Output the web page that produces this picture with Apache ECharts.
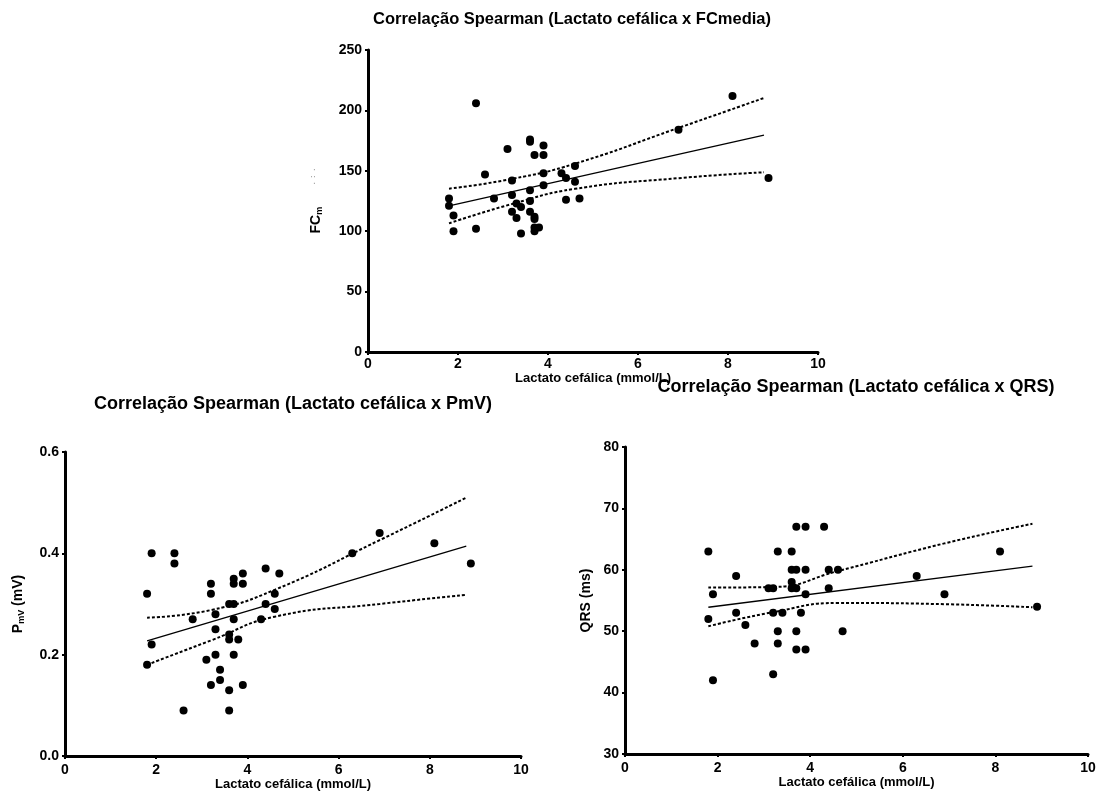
<!DOCTYPE html>
<html>
<head>
<meta charset="utf-8">
<title>Correlação Spearman</title>
<script src="https://cdn.jsdelivr.net/npm/echarts@6/dist/echarts.min.js"></script>
<style>
html, body { margin: 0; padding: 0; background: #fff; }
#main { width: 1103px; height: 805px; }
</style>
</head>
<body>
<div id="main"></div>
<script>
// eixo x comum: lactato cefálica (mmol/L)
var xTicks = [0, 2, 4, 6, 8, 10];
var fitX = [1.8, 8.8];
var ciX = [1.8, 3.2, 4.6, 6.9, 8.8];

// FC media
var fcX = [2.4, 8.1, 6.9, 8.9, 3.6, 3.6, 3.9, 3.1, 3.7, 3.9, 2.6, 3.9, 4.3, 4.4, 4.6, 4.6, 3.2, 3.9, 3.6, 1.8,
           1.8, 2.8, 3.2, 3.6, 4.4, 4.7, 3.3, 3.4, 1.9, 3.2, 3.6, 3.3, 3.7, 3.7, 3.7, 3.8, 3.7, 2.4, 1.9, 3.4];
var fcY = [206, 212, 184, 144, 176, 174, 171, 168, 163, 163, 147, 148, 148, 144, 154, 141, 142, 138, 134, 127,
           121, 127, 130, 125, 126, 127, 123, 120, 113, 116, 116, 111, 112, 110, 103, 103, 100, 102, 100, 98];
var fcTicks = [0, 50, 100, 150, 200, 250];
var fcFit = [120.9, 179.6];
var fcUpper = [135.2, 143.3, 155.9, 185.5, 210.3];
var fcLower = [106.5, 122.5, 135.1, 143.9, 148.8];

// PmV
var pmvX = [1.9, 2.4, 2.4, 6.9, 8.1, 6.3, 8.9, 4.4, 3.9, 4.7, 3.7, 3.7, 3.9, 3.2, 1.8, 3.2, 4.6, 3.6, 3.7, 4.4, 4.6,
            3.3, 2.8, 3.7, 4.3, 3.3, 3.6, 3.6, 3.8, 1.9, 3.3, 3.7, 3.1, 1.8, 3.4, 3.4, 3.2, 3.9, 3.6, 2.6, 3.6];
var pmvY = [0.40, 0.40, 0.38, 0.44, 0.42, 0.40, 0.38, 0.37, 0.36, 0.36, 0.35, 0.34, 0.34, 0.34, 0.32, 0.32, 0.32, 0.30, 0.30, 0.30, 0.29,
            0.28, 0.27, 0.27, 0.27, 0.25, 0.24, 0.23, 0.23, 0.22, 0.20, 0.20, 0.19, 0.18, 0.17, 0.15, 0.14, 0.14, 0.13, 0.09, 0.09];
var pmvTicks = [0.0, 0.2, 0.4, 0.6];
var pmvFit = [0.227, 0.414];
var pmvUpper = [0.273, 0.288, 0.328, 0.426, 0.510];
var pmvLower = [0.180, 0.228, 0.275, 0.300, 0.318];

// QRS
var qrsX = [1.8, 3.7, 3.9, 4.3, 3.3, 3.6, 8.1, 3.6, 3.7, 3.9, 4.4, 4.6, 2.4, 6.3, 3.6, 3.1, 3.2, 3.6, 3.7, 4.4,
            1.9, 3.9, 6.9, 8.9, 2.4, 3.2, 3.4, 3.8, 1.8, 2.6, 3.3, 3.7, 4.7, 2.8, 3.3, 3.7, 3.9, 3.2, 1.9];
var qrsY = [63, 67, 67, 67, 63, 63, 63, 60, 60, 60, 60, 60, 59, 59, 58, 57, 57, 57, 57, 57,
            56, 56, 56, 54, 53, 53, 53, 53, 52, 51, 50, 50, 50, 48, 48, 47, 47, 43, 42];
var qrsTicks = [30, 40, 50, 60, 70, 80];
var qrsFit = [53.9, 60.6];
var qrsUpper = [57.1, 57.2, 59.8, 64.3, 67.5];
var qrsLower = [50.8, 53.1, 54.6, 54.4, 53.9];

var font = 'Liberation Sans, Arial, Helvetica, sans-serif';
var myChart = echarts.init(document.getElementById('main'));

function pairs(xs, ys) {
	return xs.map(function (x, i) { return [x, ys[i]]; });
}

function eixoX(g, gap, margem) {
	return {
		gridIndex: g, type: 'value',
		min: xTicks[0], max: xTicks[xTicks.length - 1], interval: xTicks[1] - xTicks[0],
		name: 'Lactato cefálica (mmol/L)', nameLocation: 'middle', nameGap: gap,
		nameTextStyle: { fontFamily: font, fontWeight: 'bold', fontSize: 13, color: '#000' },
		axisLine: { show: true, onZero: false, lineStyle: { color: '#000', width: 3 } },
		axisTick: { show: true, length: 3, lineStyle: { color: '#000', width: 2 } },
		axisLabel: { margin: margem, fontFamily: font, fontWeight: 'bold', fontSize: 14, color: '#000' },
		splitLine: { show: false }
	};
}

function eixoY(g, ticks, name, gap, casas) {
	return {
		gridIndex: g, type: 'value',
		min: ticks[0], max: ticks[ticks.length - 1], interval: ticks[1] - ticks[0],
		name: name, nameLocation: 'middle', nameGap: gap,
		nameTextStyle: {
			fontFamily: font, fontWeight: 'bold', fontSize: 14, color: '#000',
			rich: {
				a: { fontFamily: font, fontWeight: 'bold', fontSize: 14, lineHeight: 14, verticalAlign: 'top', color: '#000' },
				s: { fontFamily: font, fontWeight: 'bold', fontSize: 9, lineHeight: 9, padding: [6, 0, 0, 0], verticalAlign: 'top', color: '#000' },
				d: { fontFamily: font, fontSize: 8, lineHeight: 14, verticalAlign: 'top', color: '#aaa' }
			}
		},
		axisLine: { show: true, onZero: false, lineStyle: { color: '#000', width: 3 } },
		axisTick: { show: true, length: 3, lineStyle: { color: '#000', width: 2 } },
		axisLabel: {
			margin: 6, fontFamily: font, fontWeight: 'bold', fontSize: 14, color: '#000',
			formatter: function (v) { return v.toFixed(casas); }
		},
		splitLine: { show: false }
	};
}

function series(g, xs, ys, fit, up, low) {
	var linha = { color: '#000', width: 1.3, type: 'solid' };
	var pont = { color: '#000', width: 2, type: [3, 2] };
	return [
		{ type: 'line', xAxisIndex: g, yAxisIndex: g, data: pairs(fitX, fit), symbol: 'none', lineStyle: linha, silent: true },
		{ type: 'line', xAxisIndex: g, yAxisIndex: g, data: pairs(ciX, up), symbol: 'none', smooth: true, lineStyle: pont, silent: true },
		{ type: 'line', xAxisIndex: g, yAxisIndex: g, data: pairs(ciX, low), symbol: 'none', smooth: true, lineStyle: pont, silent: true },
		{ type: 'scatter', xAxisIndex: g, yAxisIndex: g, data: pairs(xs, ys), symbolSize: 8, itemStyle: { color: '#000', opacity: 1 }, z: 5 }
	];
}

function estilo(tam) {
	return { fontFamily: font, fontWeight: 'bold', fontSize: tam, color: '#000' };
}

option = {
	backgroundColor: '#fff',
	animation: false,
	title: [
		{ text: 'Correlação Spearman (Lactato cefálica x FCmedia)', left: 373, top: 11, padding: 0, textStyle: estilo(16.5) },
		{ text: 'Correlação Spearman (Lactato cefálica x PmV)', left: 293, top: 395, textAlign: 'center', padding: 0, textStyle: estilo(18) },
		{ text: 'Correlação Spearman (Lactato cefálica x QRS)', left: 856, top: 378, textAlign: 'center', padding: 0, textStyle: estilo(18) }
	],
	grid: [
		{ left: 368, top: 50, width: 450, height: 302 },
		{ left: 65, top: 452, width: 456, height: 304 },
		{ left: 625, top: 447, width: 463, height: 307 }
	],
	xAxis: [eixoX(0, 17, 5), eixoX(1, 19, 7), eixoX(2, 21, 7)],
	yAxis: [
		eixoY(0, fcTicks, '{a|FC}{s|m}{d|          .  :  .}', 45, 0),
		eixoY(1, pmvTicks, '{a|P}{s|mV}{a| (mV)}', 40, 1),
		eixoY(2, qrsTicks, '{a|QRS (ms)}', 32, 0)
	],
	series: [].concat(
		series(0, fcX, fcY, fcFit, fcUpper, fcLower),
		series(1, pmvX, pmvY, pmvFit, pmvUpper, pmvLower),
		series(2, qrsX, qrsY, qrsFit, qrsUpper, qrsLower)
	)
};

myChart.setOption(option);

window.addEventListener('resize', function () {
	myChart.resize();
});
</script>
</body>
</html>
